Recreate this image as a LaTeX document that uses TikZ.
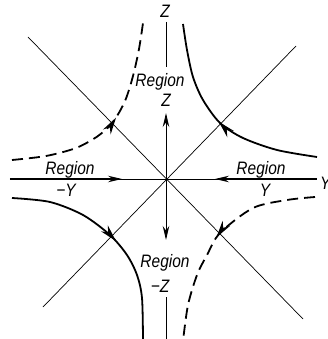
\documentclass[tikz,border=0pt]{standalone}
\usepackage{graphicx}
\usepackage{fontspec}
\setmainfont{Liberation Sans}
\usetikzlibrary{arrows.meta,decorations.markings}
\newcommand{\condtext}[1]{\scalebox{0.86}[1]{#1}}
\begin{document}
\begin{tikzpicture}[x=1pt,y=1pt,
  thinline/.style={line width=0.7pt},
  flow/.style={line width=1.8pt},
  flowdash/.style={flow, dash pattern=on 11pt off 6pt},
  axarrow/.style={line width=1pt,-{Stealth[length=14pt,width=6.5pt]}},
  lbl/.style={font=\fontsize{18}{21}\selectfont\itshape, inner sep=0pt},
  midarrow/.style={postaction={decorate},decoration={markings,
     mark=at position #1 with {\arrow{Stealth[length=17pt,width=9pt]}}}}
]
\useasboundingbox (-166,-160) rectangle (161,179);
% coordinates
\coordinate (O) at (0,0);
\coordinate (Lend) at (-156,0);
\coordinate (Rend) at (151,0);
\coordinate (Ltip) at (-44,0);
\coordinate (Rtip) at (49,0);
\coordinate (Utip) at (0,66);
\coordinate (Dtip) at (0,-61);
\coordinate (Utop1) at (0,157);
\coordinate (Utop2) at (0,112);
\coordinate (Dbot1) at (0,-118);
\coordinate (Dbot2) at (0,-162);
\coordinate (D1a) at (-138,142);
\coordinate (D1b) at (137,-140);
\coordinate (D2a) at (130,133);
\coordinate (D2b) at (-123,-128);
% diagonals
\draw[thinline] (D1a) -- (D1b);
\draw[thinline] (D2a) -- (D2b);
% axes
\draw[thinline] (Lend) -- (Rend);
\draw[axarrow] (Lend) -- (Ltip);
\draw[axarrow] (Rend) -- (Rtip);
\draw[axarrow] (O) -- (Utip);
\draw[axarrow] (O) -- (Dtip);
\draw[thinline] (Utop1) -- (Utop2);
\draw[thinline] (Dbot1) -- (Dbot2);
% flow curves
\draw[flow, midarrow=0.5] plot[smooth] coordinates
  {(151,22) (111,29) (77,41) (54,56) (37,79) (27,102) (21,129) (17,155)};
\draw[flowdash, midarrow=0.54] plot[smooth] coordinates
  {(-154,19) (-120,23) (-90,31) (-68,43) (-53,57) (-41,78) (-33,103) (-27,130) (-23,156)};
\draw[flow, midarrow=0.52] plot[smooth] coordinates
  {(-154,-19) (-116,-23) (-83,-36) (-56,-56) (-39,-76) (-29,-96) (-24,-119) (-23,-162)};
\draw[flowdash, midarrow=0.5] plot[smooth] coordinates
  {(149,-18) (121,-21) (87,-29) (54,-54) (41,-76) (31,-96) (22,-126) (17,-162)};
% labels
\node[lbl, anchor=base] (zt) at (-1,161) {\condtext{Z}};
\node[lbl, anchor=base] (rt) at (-6,92) {\condtext{Region}};
\node[lbl, anchor=base] (zt2) at (0,72) {\condtext{Z}};
\node[lbl, anchor=base] (rl) at (-96,4) {\condtext{Region}};
\node[lbl, anchor=base] (yl) at (-100,-18) {\condtext{−Y}};
\node[lbl, anchor=base] (rr) at (95,4) {\condtext{Region}};
\node[lbl, anchor=base] (yr) at (99,-18) {\condtext{Y}};
\node[lbl, anchor=base] (rb) at (-1,-88) {\condtext{Region}};
\node[lbl, anchor=base] (zb) at (-6,-113) {\condtext{−Z}};
\node[lbl, anchor=base west] (yax) at (154,-11) {\condtext{Y}};
\end{tikzpicture}
\end{document}
